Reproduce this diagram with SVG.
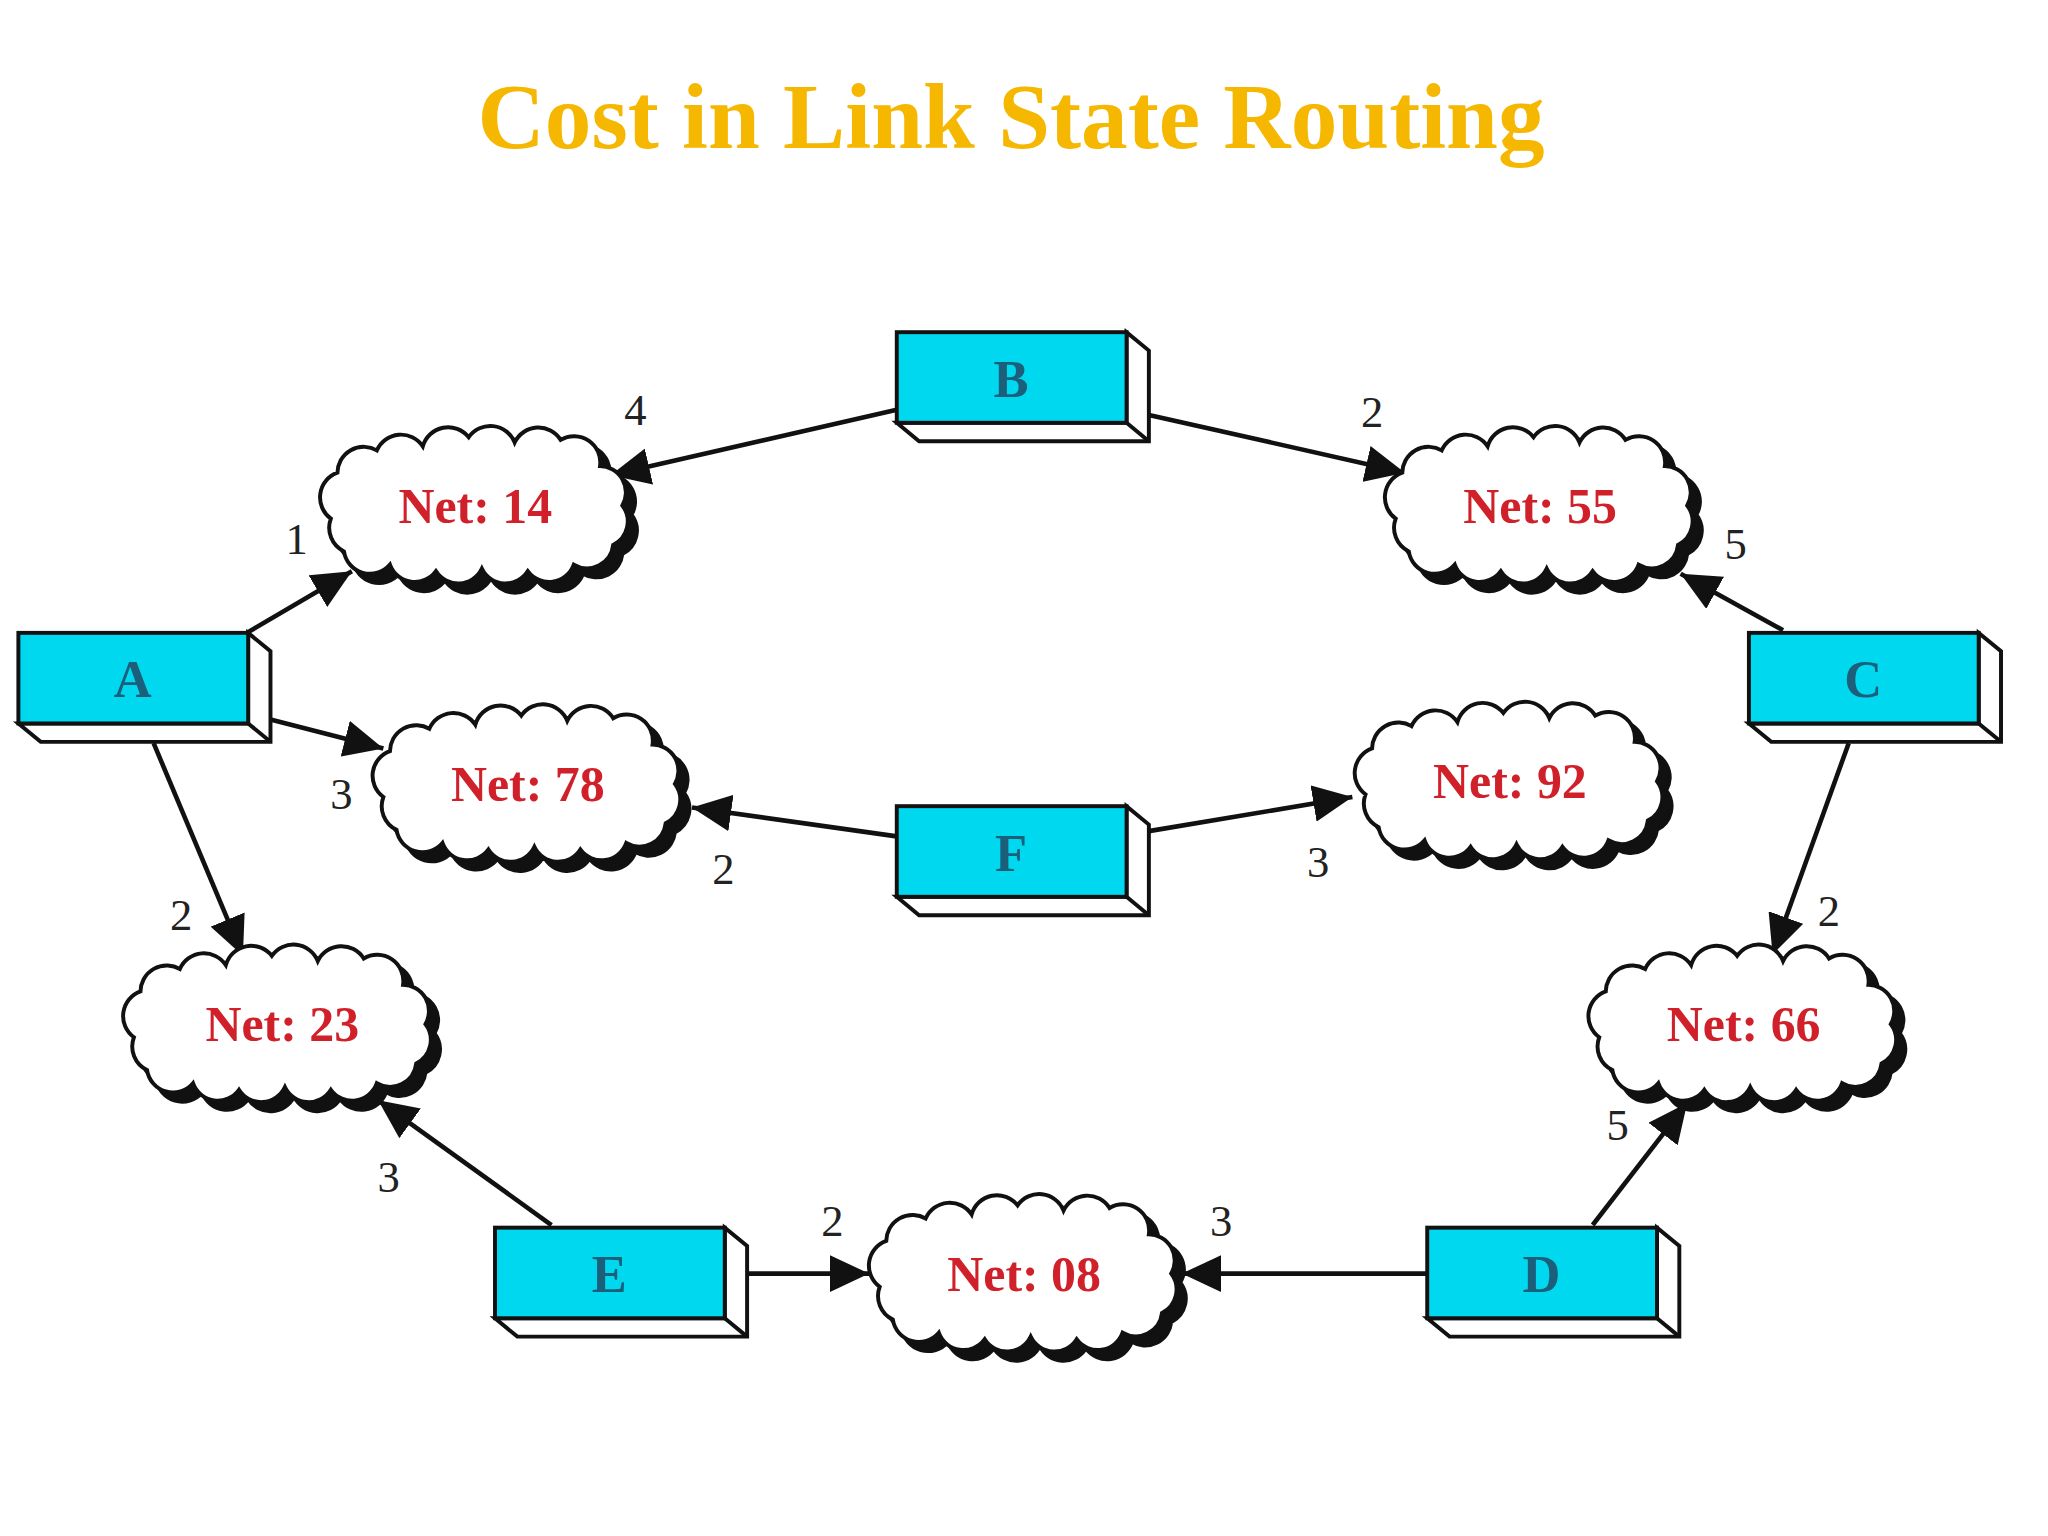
<svg xmlns="http://www.w3.org/2000/svg" width="2048" height="1536" viewBox="0 0 2048 1536">
<style>
.t{font-family:"Liberation Serif",serif;font-weight:bold;font-size:71px;fill:#f5b700}
.bx{fill:#00d8f0;stroke:#111;stroke-width:3}
.side{fill:#fff;stroke:#111;stroke-width:3}
.bl{font-family:"Liberation Serif",serif;font-weight:bold;font-size:40px;fill:#1b5f7a;text-anchor:middle}
.nl{font-family:"Liberation Serif",serif;font-weight:bold;font-size:38px;fill:#d0202a;text-anchor:middle}
.c{font-family:"Liberation Serif",serif;font-size:34px;fill:#222;text-anchor:middle}
.ln{stroke:#111;stroke-width:3.5;fill:none;marker-end:url(#ah)}
</style>
<defs>
<marker id="ah" markerUnits="userSpaceOnUse" markerWidth="32" markerHeight="28" refX="30" refY="14" orient="auto"><path d="M0,0 L30,14 L0,28 Z" fill="#111"/></marker>
<path id="cl" d="M-110,10 A20,20 0 0 1 -105,-25 A20,20 0 0 1 -75,-42 A20,20 0 0 1 -40,-45 A20,20 0 0 1 -5,-52 A20,20 0 0 1 30,-48 A20,20 0 0 1 65,-50 A20,20 0 0 1 95,-30 A20,20 0 0 1 112,0 A20,20 0 0 1 105,30 A20,20 0 0 1 75,45 A20,20 0 0 1 40,50 A20,20 0 0 1 5,48 A20,20 0 0 1 -30,50 A20,20 0 0 1 -65,45 A20,20 0 0 1 -100,35 A20,20 0 0 1 -110,10 Z"/>
<g id="cloud"><use href="#cl" transform="translate(7,7)" fill="#111" stroke="#111" stroke-width="3"/><use href="#cl" fill="#fff" stroke="#111" stroke-width="3"/></g>
<g id="box"><path class="side" d="M0,69 L17,83 L192,83 L192,14 L175,0 L175,69 Z"/><line x1="175" y1="69" x2="192" y2="83" stroke="#111" stroke-width="3"/><rect class="bx" x="0" y="0" width="175" height="69"/></g>
</defs>
<rect width="2048" height="1536" fill="#fff"/>
<g transform="scale(1.313)">
<text class="t" x="770" y="113" text-anchor="middle">Cost in Link State Routing</text>
<g id="connectors">
<line class="ln" x1="683" y1="312" x2="465" y2="362"/>
<line class="ln" x1="875" y1="316" x2="1070" y2="360"/>
<line class="ln" x1="188" y1="482" x2="268" y2="435"/>
<line class="ln" x1="1358" y1="480" x2="1280" y2="437"/>
<line class="ln" x1="206" y1="548" x2="292" y2="570"/>
<line class="ln" x1="683" y1="637" x2="527" y2="615"/>
<line class="ln" x1="875" y1="633" x2="1030" y2="607"/>
<line class="ln" x1="117" y1="566" x2="185" y2="728"/>
<line class="ln" x1="1408" y1="566" x2="1350" y2="727"/>
<line class="ln" x1="420" y1="933" x2="288" y2="838"/>
<line class="ln" x1="1213" y1="933" x2="1285" y2="840"/>
<line class="ln" x1="570" y1="970" x2="662" y2="970"/>
<line class="ln" x1="1087" y1="970" x2="900" y2="970"/>
<text class="c" x="484" y="324">4</text>
<text class="c" x="1045" y="325">2</text>
<text class="c" x="226" y="422">1</text>
<text class="c" x="1322" y="426">5</text>
<text class="c" x="260" y="616">3</text>
<text class="c" x="551" y="673">2</text>
<text class="c" x="1004" y="668">3</text>
<text class="c" x="138" y="708">2</text>
<text class="c" x="1393" y="705">2</text>
<text class="c" x="296" y="908">3</text>
<text class="c" x="1232" y="868">5</text>
<text class="c" x="634" y="941">2</text>
<text class="c" x="930" y="941">3</text>
</g>
<g id="B"><use href="#box" x="683" y="253"/><text class="bl" x="770" y="302">B</text></g>
<g id="A"><use href="#box" x="14" y="482"/><text class="bl" x="101" y="531">A</text></g>
<g id="C"><use href="#box" x="1332" y="482"/><text class="bl" x="1419" y="531">C</text></g>
<g id="F"><use href="#box" x="683" y="614"/><text class="bl" x="770" y="663">F</text></g>
<g id="E"><use href="#box" x="377" y="935"/><text class="bl" x="464" y="984">E</text></g>
<g id="D"><use href="#box" x="1087" y="935"/><text class="bl" x="1174" y="984">D</text></g>
<g id="n14"><use href="#cloud" x="362" y="385"/><text class="nl" x="362" y="398">Net: 14</text></g>
<g id="n55"><use href="#cloud" x="1173" y="385"/><text class="nl" x="1173" y="398">Net: 55</text></g>
<g id="n78"><use href="#cloud" x="402" y="597"/><text class="nl" x="402" y="610">Net: 78</text></g>
<g id="n92"><use href="#cloud" x="1150" y="595"/><text class="nl" x="1150" y="608">Net: 92</text></g>
<g id="n23"><use href="#cloud" x="212" y="780"/><text class="nl" x="215" y="793">Net: 23</text></g>
<g id="n66"><use href="#cloud" x="1328" y="780"/><text class="nl" x="1328" y="793">Net: 66</text></g>
<g id="n08"><use href="#cloud" x="780" y="970"/><text class="nl" x="780" y="983">Net: 08</text></g>
</g>
</svg>
